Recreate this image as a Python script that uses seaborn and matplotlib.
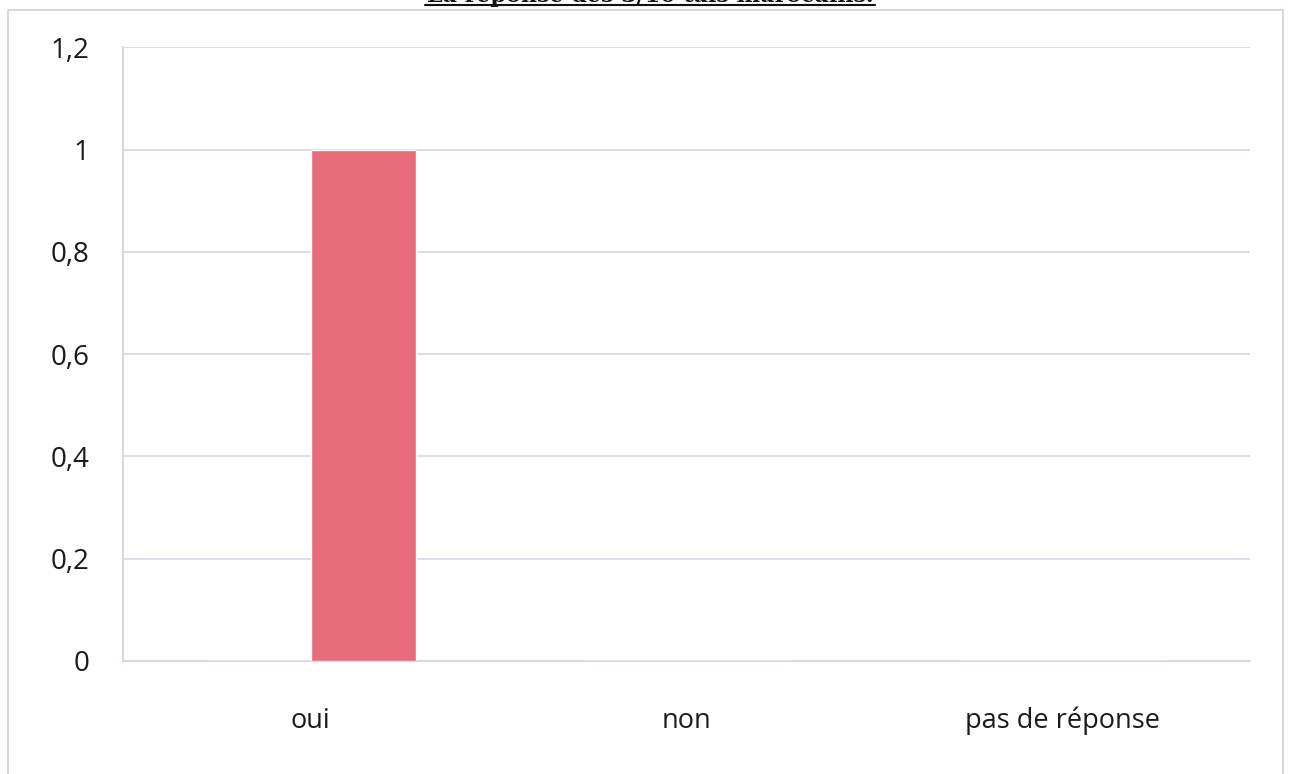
import seaborn as sns
import matplotlib.pyplot as plt
import pandas as pd
from matplotlib.patches import Rectangle

categories = ["oui", "non", "pas de réponse"]
series_1 = [0, 0, 0]
series_2 = [1, 0, 0]
y_ticks = [0, 0.2, 0.4, 0.6, 0.8, 1.0, 1.2]
y_tick_labels = ["0", "0,2", "0,4", "0,6", "0,8", "1", "1,2"]
title = "La réponse des 3/10 tais marocains."

df = pd.DataFrame({
    "categorie": categories * 2,
    "serie": ["Série1"] * 3 + ["Série2"] * 3,
    "valeur": series_1 + series_2,
})

sns.set_style("white")
plt.rcParams["font.family"] = ["Open Sans", "DejaVu Sans"]

fig = plt.figure(figsize=(12.9, 7.74), dpi=100)
ax = fig.add_axes([0.0953, 0.146, 0.8737, 0.793])

grid_col = "#d6d6ec"
sns.barplot(data=df, x="categorie", y="valeur", hue="serie",
            palette=["#e66c79", "#e66c79"], width=0.56, saturation=1,
            legend=False, ax=ax, zorder=3)

ax.set_ylim(0, 1.2)
ax.set_xlim(-0.5, 2.5)
ax.set_yticks(y_ticks)
ax.set_yticklabels(y_tick_labels, fontsize=20, color="#1a1a1a")
ax.set_xticks(range(len(categories)))
ax.set_xticklabels(categories, fontsize=19.5, color="#1a1a1a")
ax.set_xlabel("")
ax.set_ylabel("")
ax.yaxis.grid(True, color=grid_col, linewidth=1.2, zorder=0)
ax.set_axisbelow(True)

for side in ["top", "right"]:
    ax.spines[side].set_visible(False)
ax.spines["left"].set_color(grid_col)
ax.spines["bottom"].set_color(grid_col)
ax.spines["left"].set_linewidth(1.5)
ax.spines["bottom"].set_linewidth(1.5)

# category separators as small ticks under the x axis
ax.set_xticks([-0.5, 0.5, 1.5, 2.5], minor=True)
ax.tick_params(axis="x", which="major", length=0, pad=33)
ax.tick_params(axis="x", which="minor", length=8, color=grid_col, width=1.2, direction="out")
ax.tick_params(axis="y", length=0, pad=24)

# outer chart frame
fig.patches.append(Rectangle((8 / 1290, -0.01), 1275 / 1290, 1 - 10 / 774 + 0.01,
                             transform=fig.transFigure, fill=False,
                             edgecolor="#cdcde8", linewidth=1.2))

# title, clipped at the top of the page
fig.text(650 / 1290, 1.0 + 0.006, title, ha="center", va="center", fontsize=16,
         family="DejaVu Serif", fontweight="bold", color="#111111")
fig.add_artist(plt.Line2D([425 / 1290, 875 / 1290], [1 - 5 / 774, 1 - 5 / 774],
                          transform=fig.transFigure, color="#111111", linewidth=1.5))

fig.savefig("out.png", dpi=100)
